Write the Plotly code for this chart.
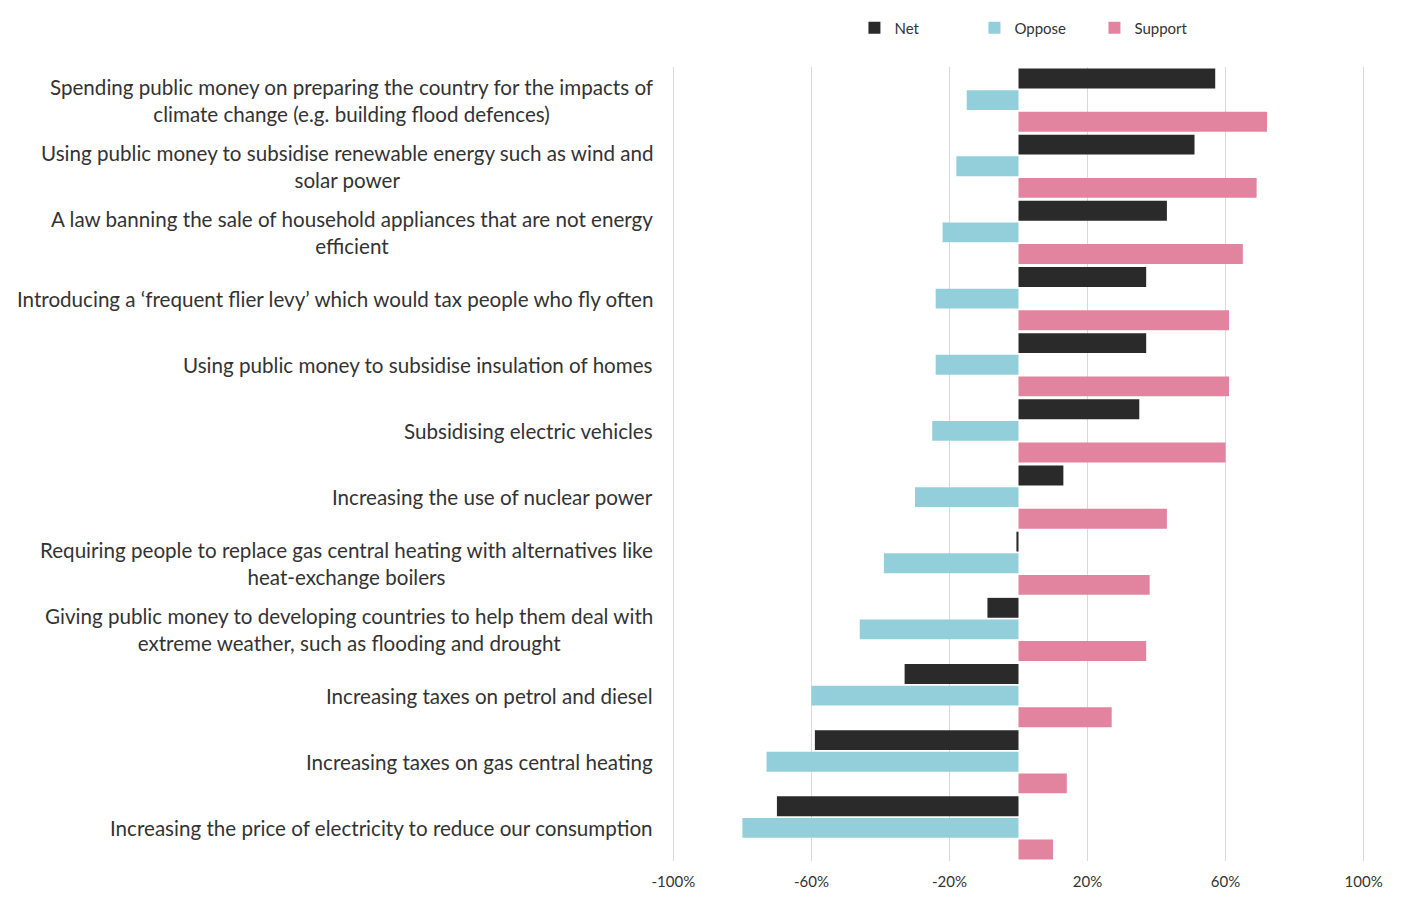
import plotly.graph_objects as go

categories = [
    "Spending public money on preparing the country for the impacts of<br>climate change (e.g. building flood defences)",
    "Using public money to subsidise renewable energy such as wind and<br>solar power",
    "A law banning the sale of household appliances that are not energy<br>efficient",
    "Introducing a \u2018frequent flier levy\u2019 which would tax people who fly often",
    "Using public money to subsidise insulation of homes",
    "Subsidising electric vehicles",
    "Increasing the use of nuclear power",
    "Requiring people to replace gas central heating with alternatives like<br>heat-exchange boilers",
    "Giving public money to developing countries to help them deal with<br>extreme weather, such as flooding and drought",
    "Increasing taxes on petrol and diesel",
    "Increasing taxes on gas central heating",
    "Increasing the price of electricity to reduce our consumption",
]

net = [57, 51, 43, 37, 37, 35, 13, -0.6, -9, -33, -59, -70]
oppose = [-15, -18, -22, -24, -24, -25, -30, -39, -46, -60, -73, -80]
support = [72, 69, 65, 61, 61, 60, 43, 38, 37, 27, 14, 10]

tick_vals = [-100, -60, -20, 20, 60, 100]
tick_text = ["-100%", "-60%", "-20%", "20%", "60%", "100%"]

FONT = "Lato, 'Open Sans', sans-serif"

fig = go.Figure()

fig.add_trace(go.Bar(y=categories, x=net, name="Net", orientation="h",
                     marker=dict(color="#2a2a2a", line_width=0)))
fig.add_trace(go.Bar(y=categories, x=oppose, name="Oppose", orientation="h",
                     marker=dict(color="#93cfdb", line_width=0)))
fig.add_trace(go.Bar(y=categories, x=support, name="Support", orientation="h",
                     marker=dict(color="#e2849f", line_width=0)))

# category labels as annotations so wrapped lines are centred like the original
for cat in categories:
    fig.add_annotation(
        x=-0.025, xref="paper", y=cat, yref="y",
        text=cat, showarrow=False,
        xanchor="right", yanchor="middle", align="center",
        font=dict(family=FONT, size=20.6, color="#333333"),
    )

# page body has an 8px margin, so the figure is a bit smaller than the window
fig.update_layout(
    width=1397,
    height=890,
    barmode="group",
    bargap=0.02,
    bargroupgap=0.08,
    plot_bgcolor="white",
    paper_bgcolor="white",
    margin=dict(l=664, r=40, t=59, b=37, autoexpand=False),
    font=dict(family=FONT, color="#333333"),
    legend=dict(
        orientation="h",
        x=0.523, xanchor="center",
        y=1.049, yanchor="middle",
        font=dict(size=15, color="#333333"),
        entrywidth=75,
        traceorder="normal",
        bgcolor="rgba(0,0,0,0)",
    ),
    showlegend=True,
)

fig.update_xaxes(
    range=[-100.4, 100.4],
    tickvals=tick_vals,
    ticktext=tick_text,
    showgrid=True,
    gridcolor="#d9d9d9",
    gridwidth=1,
    zeroline=False,
    showline=False,
    tickfont=dict(size=15, color="#333333"),
    ticks="",
    ticklabelstandoff=10,
)

fig.update_yaxes(
    autorange="reversed",
    showticklabels=False,
    showgrid=False,
    zeroline=False,
    ticks="",
)

fig.write_html("out.html")
